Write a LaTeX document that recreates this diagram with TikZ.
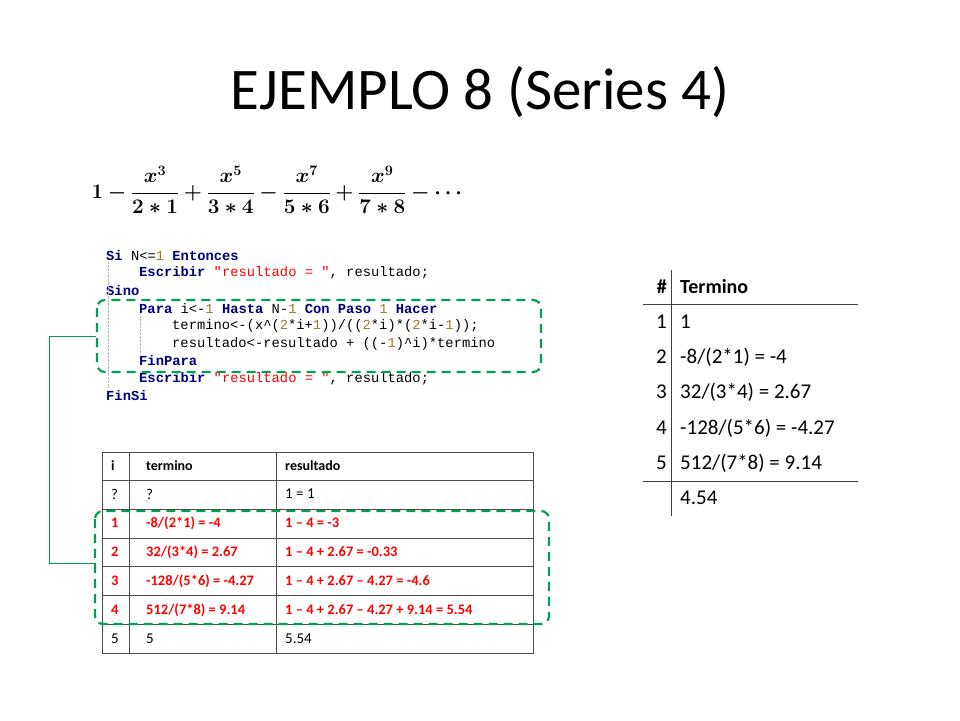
\documentclass[tikz,border=0pt]{standalone}
\usepackage{amsmath,bm}
\usepackage{fontspec}
\setmainfont{Carlito}
\newfontfamily\codef{Liberation Mono}
\begin{document}
\begin{tikzpicture}[x=1pt,y=-1pt,
  cl/.style={anchor=west,inner sep=0pt,font=\codef\fontsize{13.8}{13.8}\selectfont},
  tb/.style={anchor=west,inner sep=0pt,font=\fontsize{15}{15}\selectfont},
  tr/.style={tb,text=red,font=\fontsize{14.5}{14.5}\selectfont\bfseries},
  rt/.style={anchor=west,inner sep=0pt,font=\fontsize{21}{21}\selectfont},
  gdash/.style={line width=2.2pt,dash pattern=on 9pt off 6pt,rounded corners=8pt}]
\useasboundingbox (0,0) rectangle (960,720);
\definecolor{gr}{RGB}{0,160,80}
\definecolor{num}{RGB}{160,120,40}
\node[font=\fontsize{59}{59}\selectfont] (title) at (480,92) {EJEMPLO 8 (Series 4)};
\node[anchor=west,font=\fontsize{21.5}{21.5}\selectfont] (formula) at (88,190)
 {$\bm{1-\dfrac{x^3}{2*1}+\dfrac{x^5}{3*4}-\dfrac{x^7}{5*6}+\dfrac{x^9}{7*8}-\cdots}$};
% code
\def\bl{\color{blue!50!black}\bfseries}
\def\rd{\color{red}}
\def\nm{\color{num}}
\node[cl] (c1) at (106,256) {{\bl Si} N<={\nm 1} {\bl Entonces}};
\node[cl] (c2) at (139,273) {{\bl Escribir} {\rd "resultado = "}, resultado;};
\node[cl] (c3) at (106,291) {{\bl Sino}};
\node[cl] (c4) at (139,309) {{\bl Para} i<-{\nm 1} {\bl Hasta} N-{\nm 1} {\bl Con Paso} {\nm 1} {\bl Hacer}};
\node[cl] (c5) at (172,326) {termino<-(x\^{}({\nm 2}*i+{\nm 1}))/(({\nm 2}*i)*({\nm 2}*i-{\nm 1}));};
\node[cl] (c6) at (172,344) {resultado<-resultado + ((-{\nm 1})\^{}i)*termino};
\node[cl] (c7) at (139,361) {{\bl FinPara}};
\node[cl] (c8) at (139,379) {{\bl Escribir} {\rd "resultado = "}, resultado;};
\node[cl] (c9) at (106,396) {{\bl FinSi}};
\draw[gray!60,densely dotted] (108,262)--(108,388);
\draw[gray!60,densely dotted] (140,316)--(140,354);
% bottom table
\draw[gray!60!black,line width=0.8pt] (102,452) rectangle (533,653);
\foreach \y in {480,509,538,566,595,624} \draw[gray!60!black,line width=0.8pt] (102,\y)--(533,\y);
\foreach \x in {129,276} \draw[gray!60!black,line width=0.8pt] (\x,452)--(\x,653);
\node[tb,font=\fontsize{14}{14}\selectfont\bfseries] at (111,466) {i};
\node[tb,font=\fontsize{14}{14}\selectfont\bfseries] at (146,466) {termino};
\node[tb,font=\fontsize{14}{14}\selectfont\bfseries] at (285,466) {resultado};
\node[tb] at (111,494) {?};\node[tb] at (146,494) {?};\node[tb] at (285,494) {1 = 1};
\node[tr] at (111,523) {1};\node[tr] at (146,523) {-8/(2*1) = -4};\node[tr] at (285,523) {1 – 4 = -3};
\node[tr] at (111,552) {2};\node[tr] at (146,552) {32/(3*4) = 2.67};\node[tr] at (285,552) {1 – 4 + 2.67 = -0.33};
\node[tr] at (111,581) {3};\node[tr] at (146,581) {-128/(5*6) = -4.27};\node[tr] at (285,581) {1 – 4 + 2.67 – 4.27 = -4.6};
\node[tr] at (111,610) {4};\node[tr] at (146,610) {512/(7*8) = 9.14};\node[tr] at (285,610) {1 – 4 + 2.67 – 4.27 + 9.14 = 5.54};
\node[tb] at (111,639) {5};\node[tb] at (146,639) {5};\node[tb] at (285,639) {5.54};
% dashed boxes
\draw[gdash,draw=gr] (97,300) rectangle (541,372);
\draw[gdash,draw=gr] (95,511) rectangle (549,624);
\coordinate (p1) at (96,336); \coordinate (p2) at (96,563);
\draw[gr,line width=0.8pt] (p1) -- (49,336) -- (49,563) -- (p2);
% right table
\draw[gray!50!black,line width=0.8pt] (671,270)--(671,516);
\draw[gray!50!black,line width=0.8pt] (643,304)--(858,304);
\draw[gray!50!black,line width=0.8pt] (643,481)--(858,481);
\node[rt,font=\fontsize{20}{20}\selectfont\bfseries,anchor=east] at (667,287) {\#};
\node[rt,font=\fontsize{20}{20}\selectfont\bfseries] at (680,287) {Termino};
\foreach \n/\t/\y in {1/1/322,2/{-8/(2*1) = -4}/357,3/{32/(3*4) = 2.67}/392,4/{-128/(5*6) = -4.27}/428,5/{512/(7*8) = 9.14}/463}{
 \node[rt,anchor=east] at (667,\y) {\n};
 \node[rt] at (680,\y) {\t};}
\node[rt] at (680,498) {4.54};
\end{tikzpicture}
\end{document}
